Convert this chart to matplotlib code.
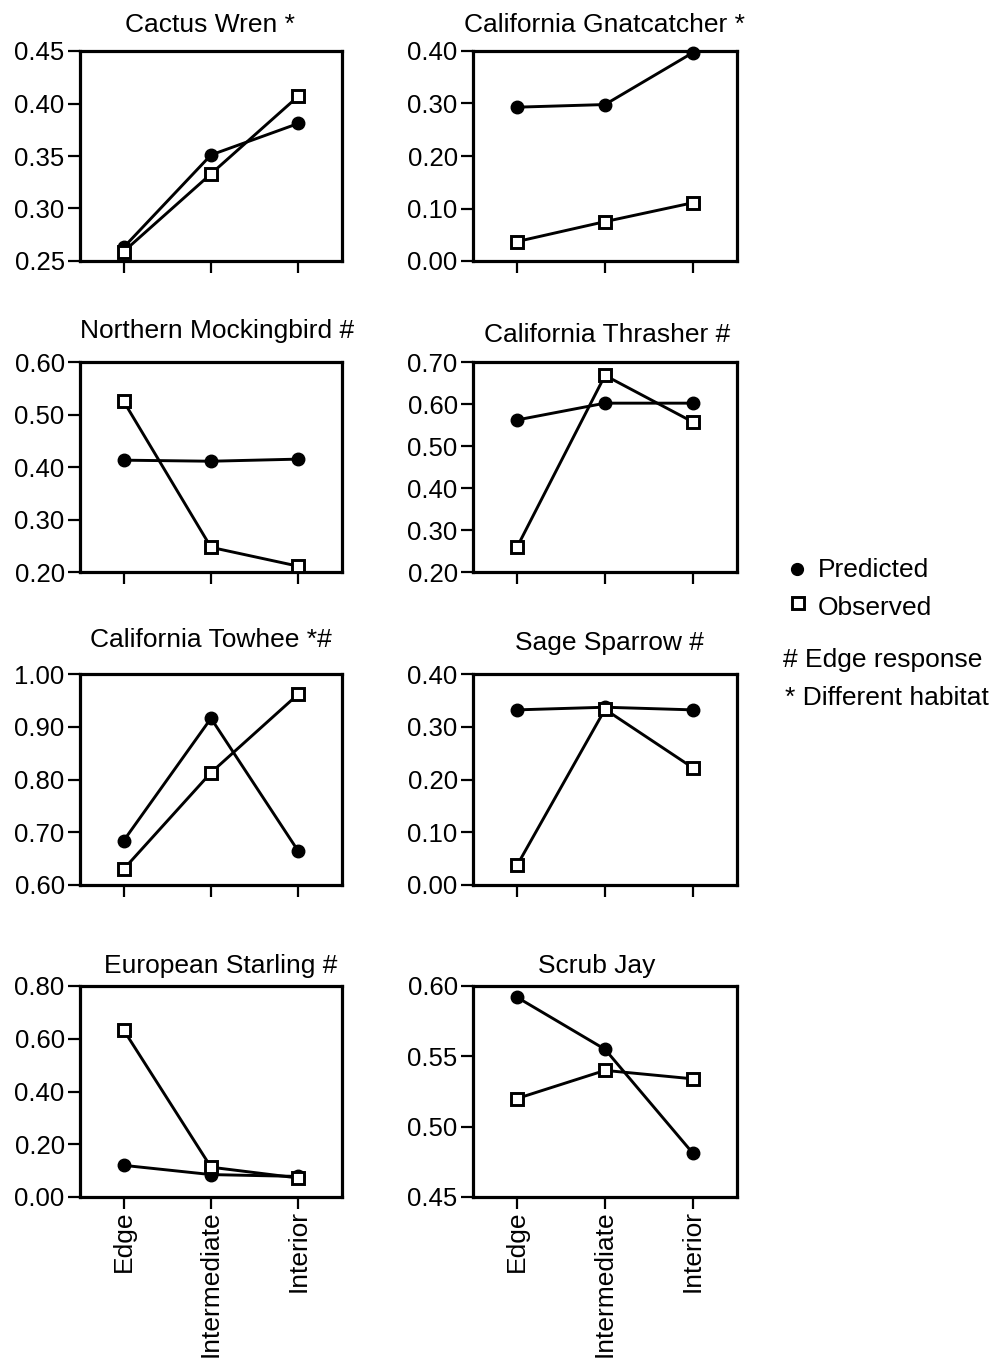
import matplotlib
matplotlib.use("Agg")
import matplotlib.pyplot as plt
from matplotlib.ticker import MultipleLocator, FormatStrFormatter
from matplotlib.lines import Line2D

plt.rcParams['font.family'] = ['Liberation Sans', 'DejaVu Sans']

# ---- data ----
positions = ["Edge", "Intermediate", "Interior"]
titles = ["Cactus Wren *", "California Gnatcatcher *",
          "Northern Mockingbird #", "California Thrasher #",
          "California Towhee *#", "Sage Sparrow #",
          "European Starling #", "Scrub Jay"]
predicted = [
    [0.263, 0.351, 0.381],
    [0.293, 0.298, 0.397],
    [0.413, 0.411, 0.415],
    [0.562, 0.602, 0.602],
    [0.684, 0.916, 0.664],
    [0.332, 0.337, 0.332],
    [0.120, 0.085, 0.078],
    [0.592, 0.555, 0.481],
]
observed = [
    [0.259, 0.333, 0.407],
    [0.037, 0.075, 0.111],
    [0.525, 0.247, 0.211],
    [0.259, 0.668, 0.557],
    [0.630, 0.813, 0.962],
    [0.037, 0.333, 0.222],
    [0.633, 0.113, 0.072],
    [0.520, 0.540, 0.534],
]
ylims = [(0.25, 0.45), (0.0, 0.40), (0.20, 0.60), (0.20, 0.70),
         (0.60, 1.00), (0.0, 0.40), (0.0, 0.80), (0.45, 0.60)]
ysteps = [0.05, 0.10, 0.10, 0.10, 0.10, 0.10, 0.20, 0.05]
legend_labels = ["Predicted", "Observed", "# Edge response", "* Different habitat"]

# ---- layout (pixels) ----
W, H = 1000, 1360
fig = plt.figure(figsize=(W / 100, H / 100), dpi=100)

cols = [(80, 342), (473, 737)]
rows = [(51, 261), (362, 572), (674, 885), (986, 1197)]
title_pos = [(210, 32), (605, 32), (217, 338), (607, 342),
             (211, 647), (609, 650), (221, 973), (597, 973)]

FS = 19
TFS = 18.5

def px_rect(l, r, t, b):
    return [l / W, 1 - b / H, (r - l) / W, (b - t) / H]

for i in range(8):
    ri, ci = divmod(i, 2)
    l, r = cols[ci]
    t, b = rows[ri]
    ax = fig.add_axes(px_rect(l, r, t, b))
    x = list(range(len(positions)))
    ax.plot(x, predicted[i], color='black', lw=2.1, marker='o', ms=9,
            mfc='black', mec='black', zorder=3, clip_on=False)
    ax.plot(x, observed[i], color='black', lw=2.1, marker='s', ms=9.2,
            mfc='white', mec='black', mew=2.1, zorder=4, clip_on=False)
    ax.set_xlim(-0.5, 2.5)
    ax.set_ylim(*ylims[i])
    ax.yaxis.set_major_locator(MultipleLocator(ysteps[i]))
    ax.yaxis.set_major_formatter(FormatStrFormatter('%.2f'))
    ax.set_xticks(x)
    if ri == 3:
        ax.set_xticklabels(positions, rotation=90, fontsize=FS)
    else:
        ax.set_xticklabels([])
    for s in ax.spines.values():
        s.set_linewidth(2.3)
    ax.tick_params(axis='y', direction='out', length=8.5, width=1.6,
                   labelsize=TFS, pad=2.5)
    ax.tick_params(axis='x', direction='out', length=8.5, width=1.6,
                   labelsize=FS, pad=1.0)
    fig.text(title_pos[i][0] / W, 1 - title_pos[i][1] / H, titles[i],
             ha='center', va='baseline', fontsize=FS)

# legend-like annotations
fig.add_artist(Line2D([797 / W], [1 - 569 / H], marker='o', ms=8.5,
                      mfc='black', mec='black', ls='none'))
fig.add_artist(Line2D([798 / W], [1 - 603 / H], marker='s', ms=8.8,
                      mfc='white', mec='black', mew=2.1, ls='none'))
fig.text(818 / W, 1 - 577 / H, legend_labels[0], ha='left', va='baseline', fontsize=FS)
fig.text(818 / W, 1 - 615 / H, legend_labels[1], ha='left', va='baseline', fontsize=FS)
fig.text(783 / W, 1 - 667 / H, legend_labels[2], ha='left', va='baseline', fontsize=FS)
fig.text(785 / W, 1 - 705 / H, legend_labels[3], ha='left', va='baseline', fontsize=FS)

fig.savefig("out.png", dpi=100, facecolor='white')
